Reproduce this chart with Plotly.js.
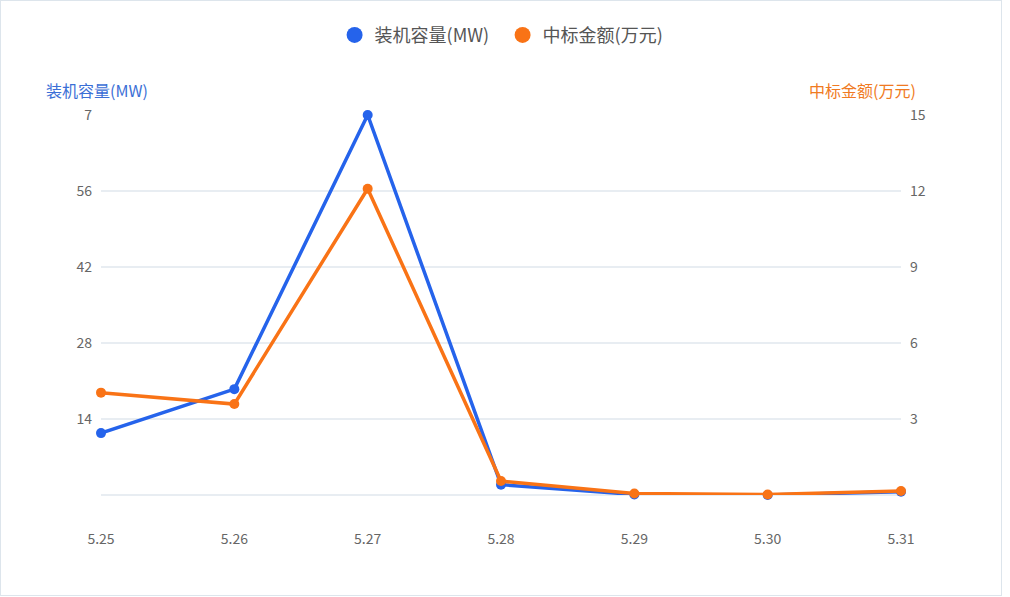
<!DOCTYPE html>
<html>
<head>
<meta charset="utf-8">
<script src="https://cdn.plot.ly/plotly-3.0.1.min.js"></script>
<style>
  html, body { margin: 0; padding: 0; background: #fff; }
  #box { width: 1000px; height: 594px; border: 1px solid #dde5ec; }
  #chart { width: 1000px; height: 594px; }
</style>
</head>
<body>
<div id="box"><div id="chart"></div></div>
<script>
// 日期 / 装机容量 / 中标金额
const dates    = ['5.25', '5.26', '5.27', '5.28', '5.29', '5.30', '5.31'];
const capacity = [11.4, 19.5, 70, 1.9, 0.1, 0, 0.6];        // MW
const amount   = [4.04, 3.59, 12.09, 0.55, 0.06, 0.02, 0.16]; // 万元

const leftTicks   = [0, 14, 28, 42, 56, 70];
const leftLabels  = ['', '14', '28', '42', '56', '7'];
const rightTicks  = [0, 3, 6, 9, 12, 15];
const rightLabels = ['', '3', '6', '9', '12', '15'];

const BLUE = '#2563eb', ORANGE = '#f97316';
const FONT = '"Noto Sans CJK SC", "Noto Sans", sans-serif';
const GRID = '#e8edf2';

const traces = [
  {
    x: dates, y: capacity, type: 'scatter', mode: 'lines+markers', name: '装机容量(MW)',
    line: { color: BLUE, width: 3.5 }, marker: { size: 10, color: BLUE },
    showlegend: false, cliponaxis: false, yaxis: 'y'
  },
  {
    x: dates, y: amount, type: 'scatter', mode: 'lines+markers', name: '中标金额(万元)',
    line: { color: ORANGE, width: 3.5 }, marker: { size: 10, color: ORANGE },
    showlegend: false, cliponaxis: false, yaxis: 'y2'
  },
  // 图例只显示圆点
  { x: [null], y: [null], type: 'scatter', mode: 'markers', name: '装机容量(MW)',
    marker: { size: 18, color: BLUE } },
  { x: [null], y: [null], type: 'scatter', mode: 'markers', name: '中标金额(万元)',
    marker: { size: 18, color: ORANGE } },
];

Plotly.newPlot('chart', traces, {
  width: 1000, height: 594,
  paper_bgcolor: '#fff', plot_bgcolor: '#fff',
  margin: { l: 100, r: 100, t: 114, b: 100 },
  font: { family: FONT, color: '#666', size: 14 },
  xaxis: {
    type: 'category', range: [0, 6], showgrid: false, zeroline: false,
    showline: false, ticks: '', ticklabelstandoff: 34,
    tickfont: { size: 14, color: '#666' }
  },
  yaxis: {
    range: [0, 70], tickvals: leftTicks, ticktext: leftLabels,
    gridcolor: GRID, gridwidth: 1.5,
    zeroline: true, zerolinecolor: GRID, zerolinewidth: 1.5, showline: false,
    ticks: '', ticklabelstandoff: 8, tickfont: { size: 14, color: '#666' }
  },
  yaxis2: {
    overlaying: 'y', side: 'right', range: [0, 15],
    tickvals: rightTicks, ticktext: rightLabels,
    showgrid: false, zeroline: false, showline: false,
    ticks: '', ticklabelstandoff: 8, tickfont: { size: 14, color: '#666' }
  },
  showlegend: true,
  legend: {
    orientation: 'h', x: 0.502, xanchor: 'center', y: 1.21, yanchor: 'middle',
    font: { size: 18, color: '#555' }, itemsizing: 'trace',
    itemwidth: 30, entrywidth: 123
  },
  annotations: [
    { xref: 'paper', yref: 'paper', x: -0.071, y: 1.066, xanchor: 'left', yanchor: 'middle',
      text: '装机容量(MW)', showarrow: false, font: { size: 16, color: '#3b6fd6' } },
    { xref: 'paper', yref: 'paper', x: 1.021, y: 1.066, xanchor: 'right', yanchor: 'middle',
      text: '中标金额(万元)', showarrow: false, font: { size: 16, color: '#f07a22' } }
  ]
}, { displayModeBar: false });
</script>
</body>
</html>
